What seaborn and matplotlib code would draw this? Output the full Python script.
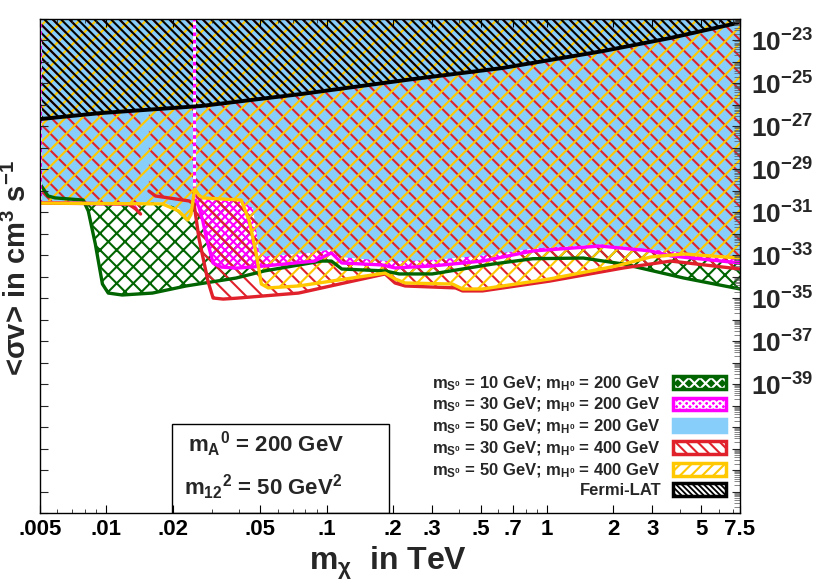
import matplotlib
matplotlib.use("Agg")
import matplotlib.pyplot as plt
import numpy as np
import seaborn as sns
from matplotlib.patches import Patch, Rectangle
from matplotlib.ticker import FixedLocator, LogLocator, NullFormatter

sns.set_theme(style="white")
plt.rcParams['font.family'] = ['Liberation Sans', 'DejaVu Sans']
plt.rcParams['font.weight'] = 'bold'
plt.rcParams['mathtext.fontset'] = 'custom'
plt.rcParams['mathtext.rm'] = 'Liberation Sans:bold'
plt.rcParams['mathtext.it'] = 'Liberation Sans:bold'
plt.rcParams['mathtext.bf'] = 'Liberation Sans:bold'
plt.rcParams['mathtext.default'] = 'rm'
plt.rcParams['hatch.linewidth'] = 1.5

# m_chi in TeV, curves given as log10(<sigma v> / cm^3 s^-1)
fermi_m = [0.005, 0.0094, 0.0269, 0.0769, 0.245, 0.629, 1.80, 3.64, 7.28, 7.5]
fermi_log = [-26.66, -26.38, -26.05, -25.49, -24.80, -24.28, -23.49, -22.88, -22.19, -22.0]

green_m = [0.005, 0.00544, 0.00586, 0.00785, 0.00828, 0.00891, 0.0096, 0.0102, 0.0118,
           0.0162, 0.0230, 0.0388, 0.0521, 0.0948, 0.105, 0.117, 0.184, 0.213, 0.301,
           0.566, 0.861, 1.46, 2.22, 4.17, 7.5]
green_log = [-29.68, -30.24, -30.33, -30.43, -30.94, -32.47, -34.34, -34.76, -34.85,
             -34.76, -34.43, -34.06, -33.73, -33.27, -33.27, -33.64, -33.73, -33.87, -33.87,
             -33.41, -33.16, -33.13, -33.41, -34.06, -34.57]

mag1_m = [0.005, 0.0126, 0.0136]
mag1_log = [-30.55, -30.62, -30.80]
mag2_m = [0.0250, 0.0263, 0.0274, 0.0283, 0.0305, 0.0332, 0.0388, 0.0521, 0.0881, 0.105,
          0.117, 0.178, 0.204, 0.301, 0.509, 0.861, 1.74, 2.95, 3.64, 7.5]
mag2_log = [-30.30, -30.76, -31.40, -32.10, -33.36, -33.55, -33.60, -33.50, -33.27, -32.89,
            -33.36, -33.45, -33.59, -33.50, -33.27, -32.80, -32.57, -32.80, -33.03, -33.36]

blue_m = [0.005, 0.0180, 0.0213, 0.0234, 0.0242, 0.0247, 0.0252, 0.0274, 0.0409, 0.0460,
          0.0479, 0.0489, 0.0521, 0.0881, 0.102, 0.121, 0.198, 0.301, 0.566, 0.861, 1.74,
          2.95, 4.17, 7.5]
blue_log = [-30.47, -30.52, -30.80, -31.30, -31.05, -30.45, -29.95, -30.30, -30.40, -30.80,
            -32.00, -32.80, -33.03, -32.85, -32.71, -33.08, -33.27, -33.20, -32.94, -32.66,
            -32.47, -32.71, -32.85, -33.03]

red1_m = [0.005, 0.0126, 0.0136, 0.0143]
red1_log = [-30.57, -30.61, -30.85, -31.08]
red2_m = [0.0156, 0.0167, 0.0237, 0.0250, 0.0263, 0.0289, 0.0305, 0.0339, 0.0388, 0.0745,
          0.184, 0.204, 0.227, 0.384, 0.413, 0.509, 1.03, 2.22, 3.64, 7.5]
red2_log = [-30.01, -30.24, -30.47, -30.61, -32.20, -34.20, -34.99, -35.04, -35.00, -34.76,
            -33.87, -34.29, -34.43, -34.52, -34.66, -34.66, -34.20, -33.59, -33.27, -33.64]

yel_m = [0.005, 0.0180, 0.0213, 0.0234, 0.0242, 0.0247, 0.0252, 0.0263, 0.0274, 0.0409,
         0.0445, 0.0479, 0.0505, 0.0543, 0.0745, 0.184, 0.204, 0.227, 0.372, 0.413, 0.509,
         1.03, 2.06, 2.95, 4.17, 7.5]
yel_log = [-30.57, -30.61, -30.94, -31.36, -31.10, -30.47, -29.91, -30.20, -30.33, -30.43,
           -31.40, -32.94, -34.34, -34.52, -34.43, -33.83, -34.10, -34.29, -34.34, -34.57, -34.57,
           -34.10, -33.50, -33.08, -32.94, -33.13]

xtick_vals = [0.005, 0.01, 0.02, 0.05, 0.1, 0.2, 0.3, 0.5, 0.7, 1, 2, 3, 5, 7.5]
xtick_labels = ['.005', '.01', '.02', '.05', '.1', '.2', '.3', '.5', '.7', '1', '2', '3', '5', '7.5']
ytick_exps = [-23, -25, -27, -29, -31, -33, -35, -37, -39]

labels = [r'm$_{S^0}$ = 10 GeV; m$_{H^0}$ = 200 GeV',
          r'm$_{S^0}$ = 30 GeV; m$_{H^0}$ = 200 GeV',
          r'm$_{S^0}$ = 50 GeV; m$_{H^0}$ = 200 GeV',
          r'm$_{S^0}$ = 30 GeV; m$_{H^0}$ = 400 GeV',
          r'm$_{S^0}$ = 50 GeV; m$_{H^0}$ = 400 GeV',
          'Fermi-LAT']

GREEN = '#006400'
MAG = '#ff00ff'
BLUE = '#87cefa'
RED = '#e0202a'
YEL = '#ffc800'
YMIN, YMAX = 1e-45, 1e-22

fig = plt.figure(figsize=(8.3, 5.81), dpi=100)
ax = fig.add_axes([40 / 830, 68 / 581, 700 / 830, 494 / 581])
ax.set_xscale('log')
ax.set_yscale('log')


def sv(logs):
    return 10.0 ** np.asarray(logs)


def hatch_above(m, logs, color, hatch, z):
    ax.fill_between(m, sv(logs), YMAX, facecolor='none', edgecolor=color,
                    hatch=hatch, linewidth=0, zorder=z)


# excluded regions (above each curve)
hatch_above(green_m, green_log, GREEN, 'xx', 1)
hatch_above(mag1_m, mag1_log, MAG, 'xxxx', 2)
hatch_above(mag2_m, mag2_log, MAG, 'xxxx', 2)
ax.fill_between(blue_m, sv(blue_log), YMAX, facecolor=BLUE, linewidth=0, zorder=3)
hatch_above(red1_m, red1_log, RED, '\\\\', 4)
hatch_above(red2_m, red2_log, RED, '\\\\', 4)
hatch_above(yel_m, yel_log, YEL, '//', 5)
hatch_above(fermi_m, fermi_log, 'black', '\\\\\\\\', 6)

# region borders
for m, logs, col, z in [(green_m, green_log, GREEN, 7), (mag1_m, mag1_log, MAG, 8),
                        (mag2_m, mag2_log, MAG, 8), (red1_m, red1_log, RED, 9),
                        (red2_m, red2_log, RED, 9), (yel_m, yel_log, YEL, 10)]:
    sns.lineplot(x=m, y=sv(logs), ax=ax, color=col, lw=2.4, sort=False,
                 estimator=None, zorder=z)
for m, logs in [(mag1_m, mag1_log), (mag2_m, mag2_log)]:
    ax.plot([m[0], m[0]], [sv(logs)[0], YMAX], color='white', lw=2.2, zorder=8)
    ax.plot([m[0], m[0]], [sv(logs)[0], YMAX], color=MAG, lw=2.2,
            ls=(0, (1.2, 1.2)), zorder=8)
sns.lineplot(x=fermi_m, y=sv(fermi_log), ax=ax, color='black', lw=2.8, sort=False,
             estimator=None, zorder=11)

ax.set_xlim(0.005, 7.5)
ax.set_ylim(YMIN, YMAX)

ax.xaxis.set_major_locator(FixedLocator(xtick_vals))
ax.set_xticklabels(xtick_labels, fontsize=16, fontweight='bold')
ax.xaxis.set_minor_locator(LogLocator(base=10, subs=np.arange(1, 10), numticks=100))
ax.xaxis.set_minor_formatter(NullFormatter())

decades = list(range(-45, -21))
ax.yaxis.set_major_locator(FixedLocator([10.0 ** e for e in decades]))
ax.set_yticklabels([rf'$10^{{{e}}}$' if e in ytick_exps else '' for e in decades],
                   fontsize=19)
ax.yaxis.set_minor_locator(LogLocator(base=10, subs=np.arange(2, 10), numticks=1000))
ax.yaxis.set_minor_formatter(NullFormatter())

ax.tick_params(axis='x', which='major', direction='in', length=6, width=0.8,
               bottom=True, top=True, pad=4, colors='black')
ax.tick_params(axis='x', which='minor', direction='in', length=3, width=0.6,
               bottom=True, top=True)
ax.tick_params(axis='y', which='major', direction='in', length=6, width=0.8,
               left=True, right=True, labelleft=False, labelright=True, pad=8)
ax.tick_params(axis='y', which='minor', direction='in', length=4, width=0.5,
               left=False, right=True, color='#555555')

for s in ax.spines.values():
    s.set_color('black')
    s.set_linewidth(1)
    s.set_zorder(30)
ax.xaxis.set_zorder(25)
ax.yaxis.set_zorder(25)

ax.set_xlabel(r'm$_{\chi}$  in TeV', fontsize=23, fontweight='bold')
ax.xaxis.set_label_coords(0.497, -0.064)
ax.set_ylabel(r'<σv> in cm$^3$ s$^{-1}$', fontsize=21, fontweight='bold')
ax.yaxis.set_label_coords(-0.011, 0.496)

# parameter box
ax.add_patch(Rectangle((0.189, 0.0), 0.31, 0.18, transform=ax.transAxes, fill=False,
                       edgecolor='black', lw=1, zorder=12))
ax.text(0.211, 0.140, r'm$_{A}$$^{0}$ = 200 GeV', transform=ax.transAxes, fontsize=16,
        fontweight='bold', va='center', zorder=13)
ax.text(0.206, 0.052, r'm$_{12}$$^{2}$ = 50 GeV$^{2}$', transform=ax.transAxes,
        fontsize=16, fontweight='bold', va='center', zorder=13)

handles = [
    (Patch(facecolor=GREEN, edgecolor='white', hatch='xxx', lw=0),
     Patch(facecolor='none', edgecolor=GREEN, lw=2.5)),
    (Patch(facecolor=MAG, edgecolor='white', hatch='xxxxx', lw=0),
     Patch(facecolor='none', edgecolor=MAG, lw=2.5)),
    Patch(facecolor=BLUE, edgecolor=BLUE, lw=2.5),
    (Patch(facecolor='white', edgecolor=RED, hatch='\\\\\\', lw=0),
     Patch(facecolor='none', edgecolor=RED, lw=2.5)),
    (Patch(facecolor='white', edgecolor=YEL, hatch='///', lw=0),
     Patch(facecolor='none', edgecolor=YEL, lw=2.5)),
    (Patch(facecolor='black', edgecolor='white', hatch='\\' * 6, lw=0),
     Patch(facecolor='none', edgecolor='black', lw=2.5)),
]
leg = ax.legend(handles, labels, loc='lower right', bbox_to_anchor=(0.98, 0.03),
                frameon=False, markerfirst=False, prop={'size': 12, 'weight': 'bold'},
                handlelength=3.2, handleheight=0.8, handletextpad=0.7,
                labelspacing=0.2, borderpad=0, borderaxespad=0)
leg.set_zorder(20)

fig.savefig('out.png', dpi=100)
